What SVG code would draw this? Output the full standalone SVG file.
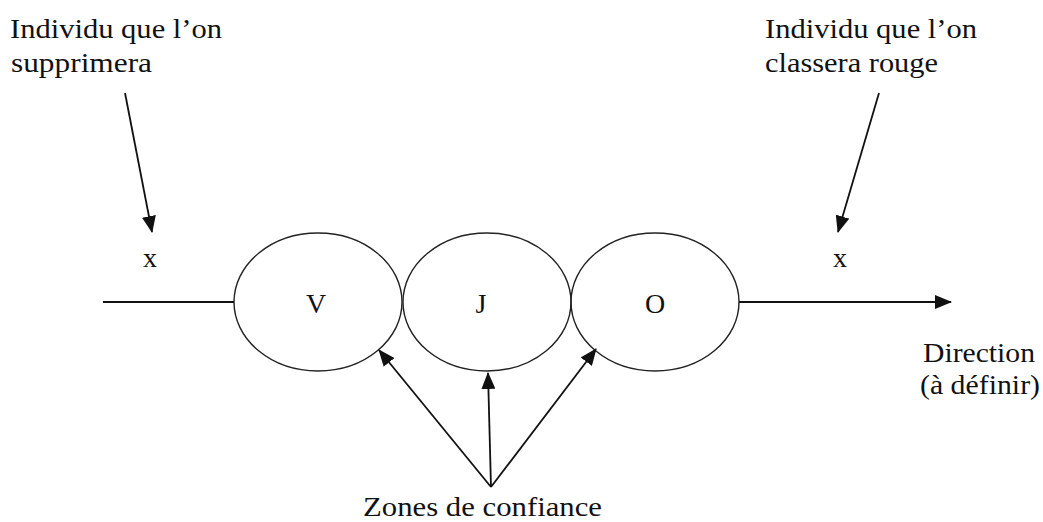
<svg xmlns="http://www.w3.org/2000/svg" width="1043" height="522" viewBox="0 0 1043 522">
<style>
text{font-family:'Liberation Serif','Times New Roman',Times,serif;font-size:28px;fill:#111}
.c{text-anchor:middle}
.e{fill:none;stroke:#222;stroke-width:1.4}
.l{stroke:#111;stroke-width:1.8;fill:none}
</style>
<defs>
<marker id="ah" markerUnits="userSpaceOnUse" markerWidth="18" markerHeight="14" refX="16" refY="7" orient="auto">
<path d="M0,0 L17,7 L0,14 Z" fill="#111"/>
</marker>
</defs>
<g id="labels">
<text x="10" y="38" font-family="Liberation Serif, serif" textLength="212" lengthAdjust="spacingAndGlyphs">Individu que l’on</text>
<text x="11" y="72" textLength="141" lengthAdjust="spacingAndGlyphs">supprimera</text>
<text x="765" y="38" textLength="212" lengthAdjust="spacingAndGlyphs">Individu que l’on</text>
<text x="765" y="72" textLength="173" lengthAdjust="spacingAndGlyphs">classera rouge</text>
<text x="923" y="362" textLength="112" lengthAdjust="spacingAndGlyphs">Direction</text>
<text x="920" y="394" textLength="120" lengthAdjust="spacingAndGlyphs">(à définir)</text>
<text x="363" y="516" textLength="239" lengthAdjust="spacingAndGlyphs">Zones de confiance</text>
<text class="c" x="150" y="267">x</text>
<text class="c" x="840" y="267">x</text>
</g>
<g id="node-V"><ellipse class="e" cx="318" cy="302" rx="84" ry="69"/><text class="c" x="316" y="313">V</text></g>
<g id="node-J"><ellipse class="e" cx="487" cy="302" rx="84" ry="69"/><text class="c" x="481" y="313">J</text></g>
<g id="node-O"><ellipse class="e" cx="655" cy="302" rx="84" ry="69"/><text class="c" x="655" y="313">O</text></g>
<g id="connectors">
<line class="l" x1="103" y1="302" x2="234" y2="302"/>
<line class="l" x1="739" y1="302" x2="951" y2="302" marker-end="url(#ah)"/>
<line class="l" x1="125" y1="93" x2="152" y2="232" marker-end="url(#ah)"/>
<line class="l" x1="879" y1="93" x2="838" y2="232" marker-end="url(#ah)"/>
<line class="l" x1="491" y1="487" x2="379" y2="350" marker-end="url(#ah)"/>
<line class="l" x1="491" y1="487" x2="488" y2="373" marker-end="url(#ah)"/>
<line class="l" x1="491" y1="487" x2="596" y2="349" marker-end="url(#ah)"/>
</g>
</svg>
